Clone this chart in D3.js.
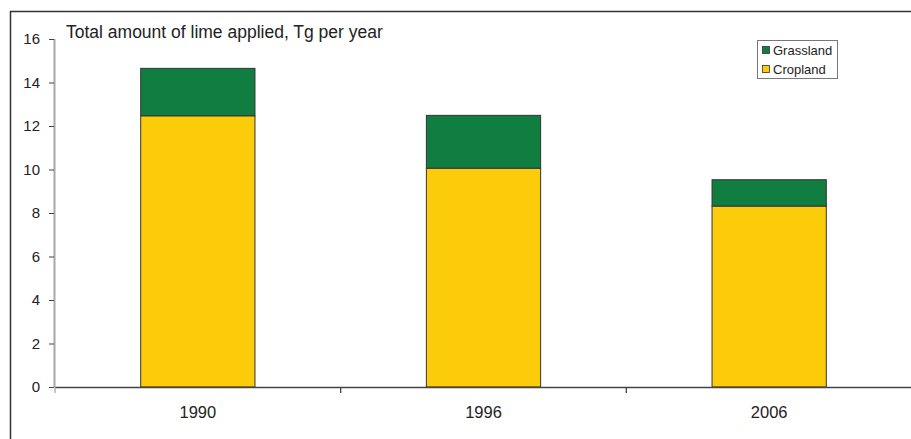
<!DOCTYPE html>
<html>
<head>
<meta charset="utf-8">
<script src="https://cdn.jsdelivr.net/npm/d3@7"></script>
<style>
  html, body { margin: 0; padding: 0; background: #fff; }
  svg { display: block; font-family: "Liberation Sans", Arial, sans-serif; }
</style>
</head>
<body>
<svg id="chart" width="911" height="439"></svg>
<script>
// Lime applied to agricultural land, Tg per year
const years = ["1990", "1996", "2006"];
const cropland = [12.47, 10.06, 8.32];
const grassland = [2.18, 2.43, 1.21];
const yTicks = [0, 2, 4, 6, 8, 10, 12, 14, 16];
const seriesNames = ["Cropland", "Grassland"];
const seriesColors = ["#fccb0a", "#0f7e40"];

const svg = d3.select("#chart");
const W = 911, H = 439;

// Outer frame (extends past the right and bottom edges)
svg.append("rect")
  .attr("x", 10.5).attr("y", 11.5)
  .attr("width", W + 20).attr("height", H + 20)
  .attr("fill", "none").attr("stroke", "#333").attr("stroke-width", 1.5);

const plot = { left: 55, right: 912, top: 39, bottom: 387 };

const x = d3.scaleBand()
  .domain(years)
  .range([plot.left, plot.right])
  .paddingInner(0.6).paddingOuter(0.3);

const y = d3.scaleLinear().domain([0, 16]).range([plot.bottom, plot.top]);

const rows = years.map((yr, i) => ({ year: yr, Cropland: cropland[i], Grassland: grassland[i] }));
const stacked = d3.stack().keys(seriesNames)(rows);

// Bars
svg.append("g").selectAll("g")
  .data(stacked)
  .join("g")
  .attr("fill", (d, i) => seriesColors[i])
  .selectAll("rect")
  .data(d => d)
  .join("rect")
  .attr("x", d => x(d.data.year))
  .attr("y", d => y(d[1]))
  .attr("width", x.bandwidth())
  .attr("height", d => y(d[0]) - y(d[1]))
  .attr("stroke", "#333")
  .attr("stroke-width", 1);

// Y axis: light rule with dark ticks
svg.append("line")
  .attr("x1", plot.left - 0.5).attr("x2", plot.left - 0.5)
  .attr("y1", y(16)).attr("y2", plot.bottom)
  .attr("stroke", "#a8a8a8").attr("stroke-width", 2);

const yAxis = svg.append("g")
  .attr("transform", `translate(${plot.left - 1},0)`)
  .call(d3.axisLeft(y).tickValues(yTicks).tickSize(5).tickPadding(9).tickFormat(d3.format("d")));
yAxis.select(".domain").remove();
yAxis.selectAll(".tick line").attr("stroke", "#444");
yAxis.selectAll(".tick text").attr("fill", "#222").style("font-size", "15px")
  .style("font-family", "'Liberation Sans', Arial, sans-serif");

// X axis with ticks between categories
const boundaries = [plot.left, ...years.map((d, i) => x(d) + x.bandwidth() / 2 + x.step() / 2)];
svg.append("line")
  .attr("x1", plot.left).attr("x2", plot.right)
  .attr("y1", plot.bottom + 0.5).attr("y2", plot.bottom + 0.5)
  .attr("stroke", "#444").attr("stroke-width", 1.3);
svg.append("g").selectAll("line")
  .data(boundaries)
  .join("line")
  .attr("x1", d => d).attr("x2", d => d)
  .attr("y1", plot.bottom).attr("y2", plot.bottom + 6)
  .attr("stroke", (d, i) => i === 0 ? "#a8a8a8" : "#444")
  .attr("stroke-width", 1.3);

svg.append("g").selectAll("text")
  .data(years)
  .join("text")
  .attr("x", d => x(d) + x.bandwidth() / 2)
  .attr("y", 418)
  .attr("text-anchor", "middle")
  .attr("fill", "#222")
  .style("font-size", "16.5px")
  .text(d => d);

// Title inside plot
svg.append("text")
  .attr("x", 66).attr("y", 38)
  .attr("fill", "#222")
  .style("font-size", "17.5px")
  .text("Total amount of lime applied, Tg per year");

// Legend
const legend = svg.append("g").attr("transform", "translate(757,40)");
legend.append("rect")
  .attr("x", 0.5).attr("y", 0.5).attr("width", 80).attr("height", 38)
  .attr("fill", "#fff").attr("stroke", "#777").attr("stroke-width", 1);
const legendItems = ["Grassland", "Cropland"];
legendItems.forEach((name, i) => {
  const color = seriesColors[seriesNames.indexOf(name)];
  legend.append("rect")
    .attr("x", 5.5).attr("y", 6.5 + i * 19).attr("width", 7).attr("height", 7)
    .attr("fill", color).attr("stroke", "#333").attr("stroke-width", 0.8);
  legend.append("text")
    .attr("x", 16).attr("y", 14.5 + i * 19)
    .attr("fill", "#222")
    .style("font-size", "13px")
    .text(name);
});
</script>
</body>
</html>
